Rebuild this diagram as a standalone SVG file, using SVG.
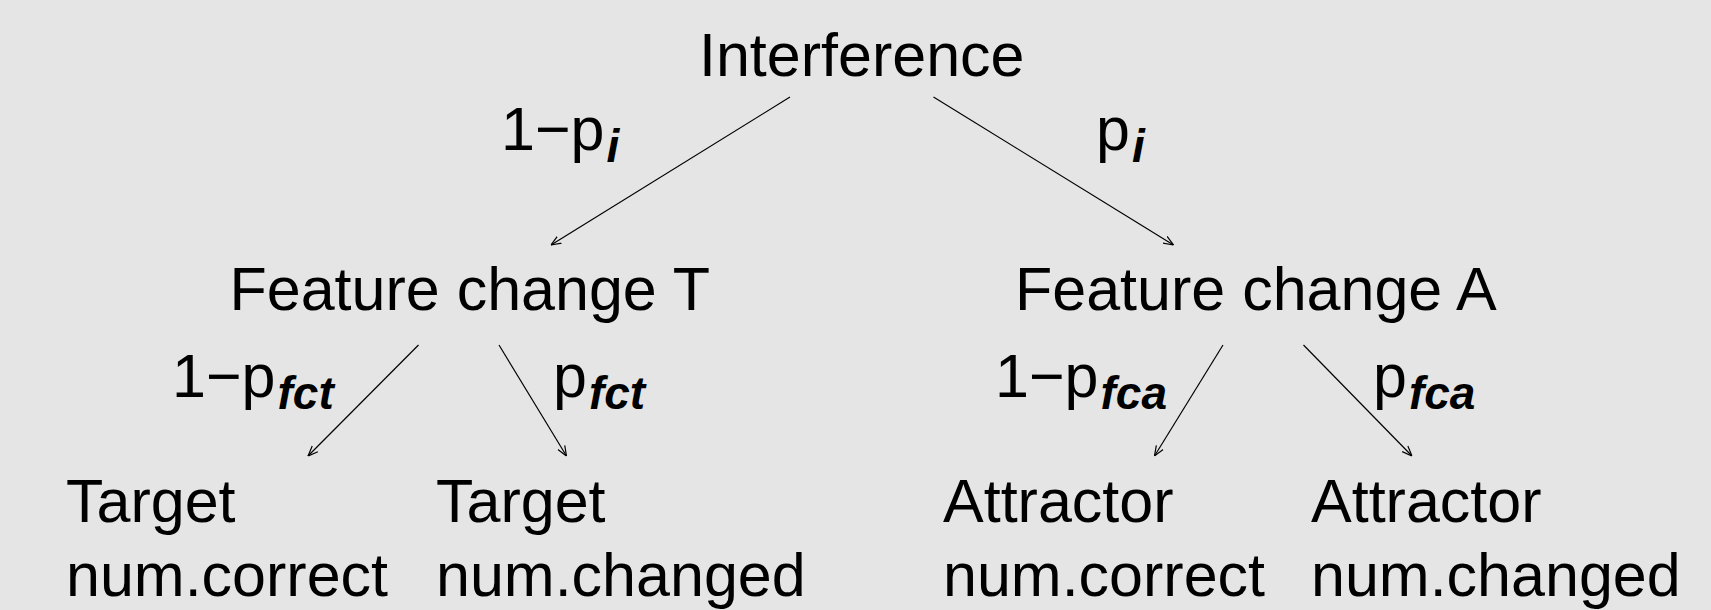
<svg xmlns="http://www.w3.org/2000/svg" width="1711" height="610" viewBox="0 0 1711 610">
  <defs>
    <marker id="arrow" viewBox="0 0 10 10" refX="10" refY="5" markerWidth="10" markerHeight="10" markerUnits="userSpaceOnUse" orient="auto">
      <path d="M0,1 L10,5 L0,9" fill="none" stroke="#000" stroke-width="1.2"/>
    </marker>
    <style>
      text { font-family: "Liberation Sans", Arial, Helvetica, sans-serif; font-size: 61px; fill: #000; }
      .sub { font-size: 46px; font-weight: bold; font-style: italic; }
      .edge { stroke: #000; stroke-width: 1.2; fill: none; marker-end: url(#arrow); }
    </style>
  </defs>
  <rect width="1711" height="610" fill="#e5e5e5"/>

  <g id="connectors">
    <line class="edge" x1="790" y1="97" x2="551" y2="245"/>
    <line class="edge" x1="933.5" y1="97" x2="1173.5" y2="245"/>
    <line class="edge" x1="418.5" y1="345" x2="308" y2="456"/>
    <line class="edge" x1="499" y1="345" x2="566.5" y2="456"/>
    <line class="edge" x1="1223" y1="345" x2="1154.5" y2="456"/>
    <line class="edge" x1="1303.5" y1="345" x2="1412" y2="456"/>
  </g>

  <g id="edge-labels">
    <text x="501" y="150">1−p<tspan class="sub" dx="2" dy="12">i</tspan></text>
    <text x="1096" y="150">p<tspan class="sub" dx="2" dy="12">i</tspan></text>
    <text x="172" y="397">1−p<tspan class="sub" dx="2" dy="12">fct</tspan></text>
    <text x="553" y="397">p<tspan class="sub" dx="2" dy="12">fct</tspan></text>
    <text x="995" y="397">1−p<tspan class="sub" dx="2" dy="12">fca</tspan></text>
    <text x="1373" y="397">p<tspan class="sub" dx="2" dy="12">fca</tspan></text>
  </g>

  <g id="interference">
    <text x="699" y="76">Interference</text>
  </g>
  <g id="feature-change-t">
    <text x="229.5" y="310">Feature change T</text>
  </g>
  <g id="feature-change-a">
    <text x="1015" y="310">Feature change A</text>
  </g>
  <g id="target-correct">
    <text x="66" y="522">Target</text>
    <text x="66" y="596">num.correct</text>
  </g>
  <g id="target-changed">
    <text x="436" y="522">Target</text>
    <text x="436" y="596">num.changed</text>
  </g>
  <g id="attractor-correct">
    <text x="943" y="522">Attractor</text>
    <text x="943" y="596">num.correct</text>
  </g>
  <g id="attractor-changed">
    <text x="1311" y="522">Attractor</text>
    <text x="1311" y="596">num.changed</text>
  </g>
</svg>
